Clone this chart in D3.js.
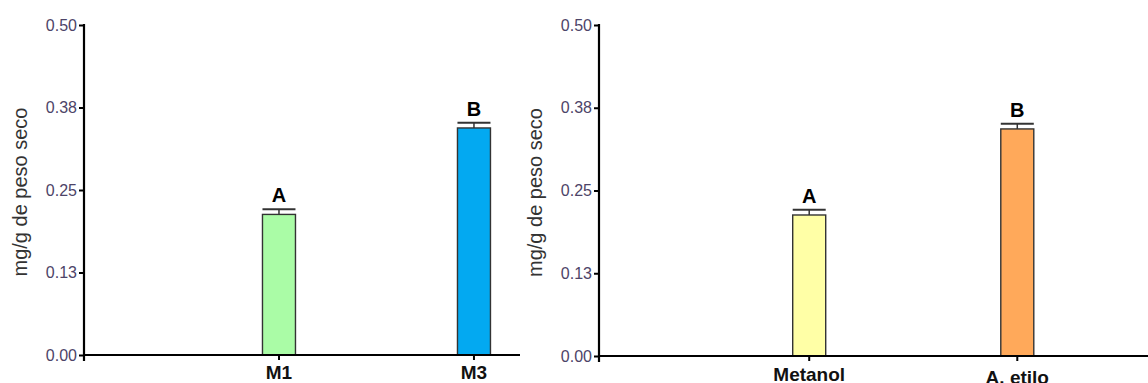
<!DOCTYPE html>
<html>
<head>
<meta charset="utf-8">
<script src="https://cdn.jsdelivr.net/npm/d3@7"></script>
<style>
  body { margin: 0; background: #fff; }
  svg { display: block; }
</style>
</head>
<body>
<div id="chart"></div>
<script>
'use strict';

// datos
const catsLeft = ['M1', 'M3'];
const valsLeft = [0.213, 0.344];
const errLeft = [0.008, 0.008];
const letrasLeft = ['A', 'B'];
const coloresLeft = ['#aafca6', '#03a9f1'];

const catsRight = ['Metanol', 'A. etilo'];
const valsRight = [0.213, 0.343];
const errRight = [0.008, 0.008];
const letrasRight = ['A', 'B'];
const coloresRight = ['#ffffa6', '#ffa95a'];

const tickValues = [0, 0.125, 0.25, 0.375, 0.5];
const tickLabels = ['0.00', '0.13', '0.25', '0.38', '0.50'];
const yTitle = 'mg/g de peso seco';

(function () {
    const width = 1148;
    const height = 383;

    var svg = d3.select('#chart').append('svg')
        .attr('width', width)
        .attr('height', height);

    // cada panel: eje y en x0, eje x hasta x1
    var panels = [
        { cats: catsLeft, vals: valsLeft, err: errLeft, letras: letrasLeft, colores: coloresLeft,
          x0: 84, x1: 520, y0: 355, y1: 25, pad: 0.618, align: 0.809, labelY: [379, 379], titleX: 27 },
        { cats: catsRight, vals: valsRight, err: errRight, letras: letrasRight, colores: coloresRight,
          x0: 599, x1: 1150, y0: 356, y1: 25, pad: 0.824, align: 0.613, labelY: [381, 384], titleX: 542 }
    ];

    panels.forEach(function (p) {
        var g = svg.append('g');

        var y = d3.scaleLinear().domain([0, 0.5]).range([p.y0, p.y1]);
        var x = d3.scalePoint().domain(p.cats).range([p.x0, p.x1])
            .padding(p.pad).align(p.align);
        var barW = 33;

        // barras
        g.selectAll('rect.bar').data(p.vals).enter().append('rect')
            .attr('class', 'bar')
            .attr('x', function (d, i) { return x(p.cats[i]) - barW / 2; })
            .attr('y', function (d) { return y(d); })
            .attr('width', barW)
            .attr('height', function (d) { return y(0) - y(d); })
            .attr('fill', function (d, i) { return p.colores[i]; })
            .attr('stroke', '#333')
            .attr('stroke-width', 1.4);

        // barras de error
        p.vals.forEach(function (v, i) {
            var cx = x(p.cats[i]);
            g.append('line')
                .attr('x1', cx).attr('x2', cx)
                .attr('y1', y(v)).attr('y2', y(v + p.err[i]))
                .attr('stroke', '#333').attr('stroke-width', 1.5);
            g.append('line')
                .attr('x1', cx - barW / 2).attr('x2', cx + barW / 2)
                .attr('y1', y(v + p.err[i])).attr('y2', y(v + p.err[i]))
                .attr('stroke', '#333').attr('stroke-width', 2);
            // letra de significancia
            g.append('text')
                .attr('x', cx)
                .attr('y', y(v + p.err[i]) - 7)
                .attr('text-anchor', 'middle')
                .attr('font-family', 'Liberation Sans, Arial, sans-serif')
                .attr('font-weight', 'bold')
                .attr('font-size', 20)
                .attr('fill', '#000')
                .text(p.letras[i]);
        });

        // eje y
        var yAxis = d3.axisLeft(y)
            .tickValues(tickValues)
            .tickFormat(function (d, i) { return tickLabels[i]; })
            .tickSize(5)
            .tickPadding(2);
        var ga = g.append('g')
            .attr('transform', 'translate(' + p.x0 + ',0)')
            .call(yAxis);
        ga.select('.domain').remove();
        ga.selectAll('line').attr('stroke', '#000').attr('stroke-width', 2);
        ga.selectAll('text')
            .attr('font-family', 'Liberation Sans, Arial, sans-serif')
            .attr('font-size', 16)
            .attr('fill', '#4d4468');
        g.append('line')
            .attr('x1', p.x0).attr('x2', p.x0)
            .attr('y1', p.y1 - 1).attr('y2', p.y0 + 6)
            .attr('stroke', '#000').attr('stroke-width', 2.2);

        // eje x
        g.append('line')
            .attr('x1', p.x0).attr('x2', p.x1)
            .attr('y1', p.y0).attr('y2', p.y0)
            .attr('stroke', '#000').attr('stroke-width', 2.2);
        p.cats.forEach(function (c, i) {
            g.append('line')
                .attr('x1', x(c)).attr('x2', x(c))
                .attr('y1', p.y0).attr('y2', p.y0 + 5)
                .attr('stroke', '#000').attr('stroke-width', 2);
            g.append('text')
                .attr('x', x(c))
                .attr('y', p.labelY[i])
                .attr('text-anchor', 'middle')
                .attr('font-family', 'Liberation Sans, Arial, sans-serif')
                .attr('font-weight', 'bold')
                .attr('font-size', 19)
                .attr('fill', '#111')
                .text(c);
        });

        // título del eje y
        g.append('text')
            .attr('transform', 'translate(' + p.titleX + ',' + ((p.y0 + p.y1) / 2 + 2) + ') rotate(-90)')
            .attr('text-anchor', 'middle')
            .attr('font-family', 'Liberation Sans, Arial, sans-serif')
            .attr('font-size', 20)
            .attr('fill', '#333')
            .text(yTitle);
    });
})();
</script>
</body>
</html>
